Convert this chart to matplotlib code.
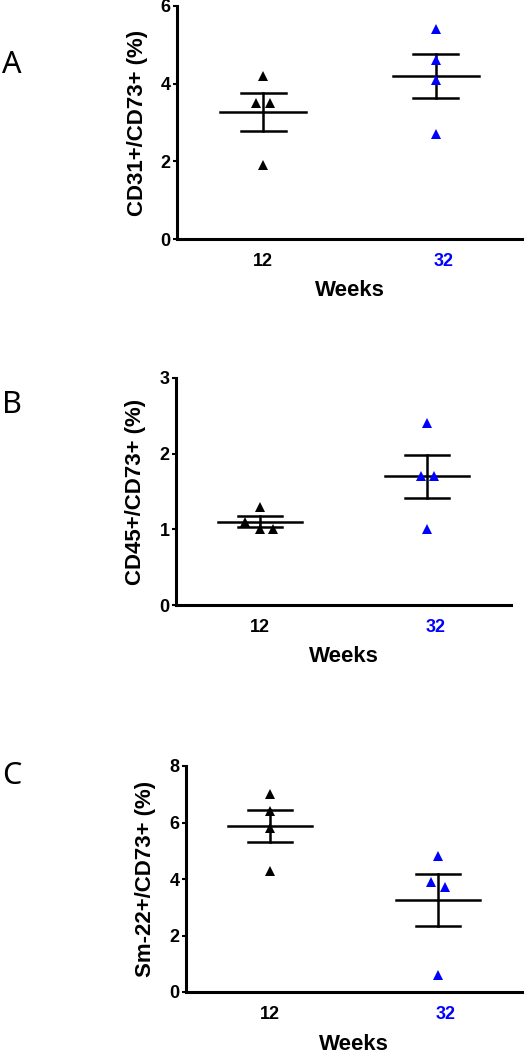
import numpy as np
import matplotlib
matplotlib.use("Agg")
import matplotlib.pyplot as plt
import matplotlib.transforms as mtransforms

plt.rcParams['font.family'] = ['Liberation Sans', 'DejaVu Sans']

# data
weeks = ['12', '32']
cd31_12 = [4.2, 3.5, 3.5, 1.9]
cd31_32 = [5.4, 4.6, 4.1, 2.7]
cd45_12 = [1.3, 1.1, 1.0, 1.0]
cd45_32 = [2.4, 1.7, 1.7, 1.0]
sm22_12 = [7.0, 6.4, 5.8, 4.3]
sm22_32 = [4.8, 3.9, 3.7, 0.6]

# horizontal scatter offsets (GraphPad style)
jit_a = ([0, -0.04, 0.04, 0], [0, 0, 0, 0])
jit_b = ([0, -0.09, 0, 0.08], [0, -0.04, 0.04, 0])
jit_c = ([0, 0, 0, 0], [0, -0.042, 0.042, 0])

panels = [
    ('A', [cd31_12, cd31_32], jit_a, 'CD31+/CD73+ (%)', [0, 2, 4, 6],
     [177, 522, 6, 239], 65),
    ('B', [cd45_12, cd45_32], jit_b, 'CD45+/CD73+ (%)', [0, 1, 2, 3],
     [176, 511, 378, 605], 405),
    ('C', [sm22_12, sm22_32], jit_c, 'Sm-22+/CD73+ (%)', [0, 2, 4, 6, 8],
     [186, 522, 766, 992], 776),
]
colors = ['black', 'blue']

W, H = 529, 1050
fig = plt.figure(figsize=(W / 100, H / 100), dpi=100)

for letter, groups, jit, ylab, yticks, (l, r, t, b), ly in panels:
    ax = fig.add_axes([l / W, 1 - b / H, (r - l) / W, (b - t) / H])
    wpx, hpx = r - l, b - t
    for i, (vals, c) in enumerate(zip(groups, colors)):
        vals = np.array(vals)
        m = vals.mean()
        sem = vals.std(ddof=1) / np.sqrt(len(vals))
        ax.plot(i + np.array(jit[i]), vals, '^', color=c, ms=7,
                markeredgewidth=0, clip_on=False, zorder=3)
        ax.plot([i - 0.25, i + 0.25], [m, m], color='black', lw=1.8, zorder=2)
        ax.plot([i - 0.13, i + 0.13], [m + sem, m + sem], color='black', lw=1.8)
        ax.plot([i - 0.13, i + 0.13], [m - sem, m - sem], color='black', lw=1.8)
        ax.plot([i, i], [m - sem, m + sem], color='black', lw=1.8)

    ax.set_xlim(-0.5, 1.5)
    ax.set_ylim(0, yticks[-1])
    ax.set_yticks(yticks)
    ax.set_xticks([0, 1])
    ax.set_xticklabels(weeks)
    for s in ['top', 'right']:
        ax.spines[s].set_visible(False)
    for s in ['left', 'bottom']:
        ax.spines[s].set_linewidth(2.2)
    ax.tick_params(axis='y', length=3, width=1.5, pad=1.5, labelsize=13)
    ax.tick_params(axis='x', length=0, pad=10, labelsize=13)
    for tl in ax.get_yticklabels() + ax.get_xticklabels():
        tl.set_fontweight('bold')
    xt = ax.get_xticklabels()
    xt[1].set_color('blue')
    xt[1].set_transform(xt[1].get_transform() +
                        mtransforms.ScaledTranslation(0.08, 0, fig.dpi_scale_trans))

    ax.set_ylabel(ylab, fontsize=16, fontweight='bold')
    ax.yaxis.label.set_va('center')
    ax.yaxis.set_label_coords(-40 / wpx, 0.5)
    ax.set_xlabel('Weeks', fontsize=16, fontweight='bold')
    ax.xaxis.label.set_va('center')
    ax.xaxis.set_label_coords(0.5, -52 / hpx)

    fig.text(2 / W, 1 - ly / H, letter, fontsize=22, family='Noto Sans',
             ha='left', va='center')

fig.savefig('out.png', dpi=100)
